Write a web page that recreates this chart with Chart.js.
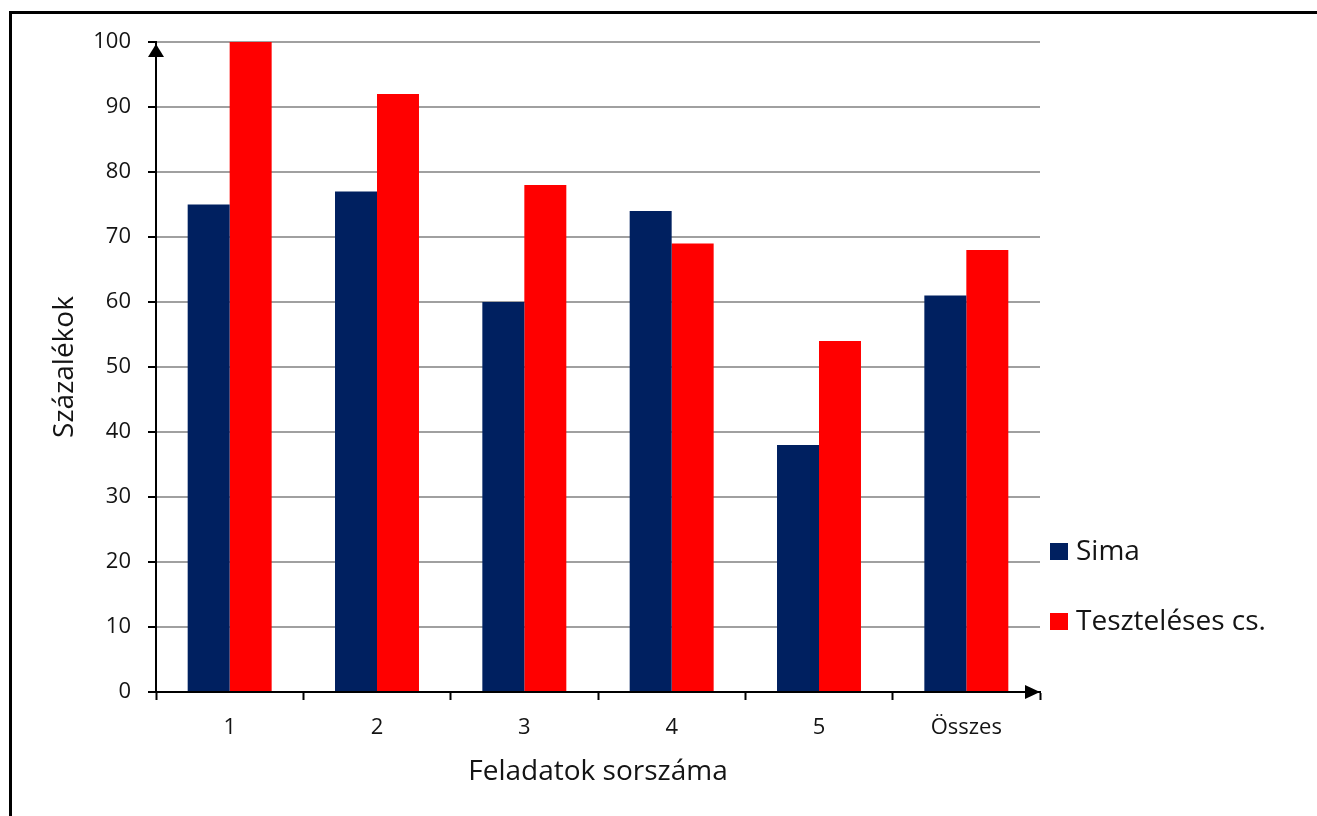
<!DOCTYPE html>
<html>
<head>
<meta charset="utf-8">
<script src="https://cdn.jsdelivr.net/npm/chart.js@4/dist/chart.umd.min.js"></script>
<style>
  html, body { margin: 0; padding: 0; background: #fff; }
  canvas { display: block; }
</style>
</head>
<body>
<canvas id="c" width="1317" height="816"></canvas>
<script>
// Feladatonkénti eredmények százalékban
const categories = ['1', '2', '3', '4', '5', 'Összes'];
const simaValues = [75, 77, 60, 74, 38, 61];
const teszteleesValues = [100, 92, 78, 69, 54, 68];
const seriesNames = ['Sima', 'Teszteléses cs.'];
const seriesColors = ['#002060', '#FF0000'];

const FONT = '"Open Sans", Lato, sans-serif';
const TEXT = '#141414';

// Keret, tengelynyilak és jelmagyarázat rajzolása
const decorations = {
  id: 'decorations',
  beforeDraw(chart) {
    const ctx = chart.ctx;
    ctx.save();
    ctx.fillStyle = '#fff';
    ctx.fillRect(0, 0, chart.width, chart.height);
    ctx.strokeStyle = '#000';
    ctx.lineWidth = 3;
    ctx.beginPath();
    ctx.moveTo(10.5, chart.height + 5);
    ctx.lineTo(10.5, 12.5);
    ctx.lineTo(chart.width + 5, 12.5);
    ctx.stroke();
    ctx.restore();
  },
  afterDraw(chart) {
    const ctx = chart.ctx;
    const a = chart.chartArea;
    ctx.save();
    ctx.fillStyle = '#000';
    // függőleges tengely nyila
    ctx.beginPath();
    ctx.moveTo(a.left, a.top + 2);
    ctx.lineTo(a.left - 8, a.top + 15);
    ctx.lineTo(a.left + 8, a.top + 15);
    ctx.closePath();
    ctx.fill();
    // vízszintes tengely nyila
    ctx.beginPath();
    ctx.moveTo(a.right, a.bottom);
    ctx.lineTo(a.right - 15, a.bottom - 7);
    ctx.lineTo(a.right - 15, a.bottom + 7);
    ctx.closePath();
    ctx.fill();

    // jelmagyarázat
    ctx.font = '28px ' + FONT;
    ctx.textBaseline = 'middle';
    ctx.textAlign = 'left';
    chart.data.datasets.forEach((ds, i) => {
      const cy = a.bottom - 140 + i * 70;
      const x = a.right + 10;
      ctx.fillStyle = ds.backgroundColor;
      ctx.fillRect(x, cy - 9, 18, 17);
      ctx.fillStyle = TEXT;
      ctx.fillText(ds.label, x + 26, cy);
    });
    ctx.restore();
  }
};

new Chart(document.getElementById('c'), {
  type: 'bar',
  data: {
    labels: categories,
    datasets: [
      { label: seriesNames[0], data: simaValues, backgroundColor: seriesColors[0] },
      { label: seriesNames[1], data: teszteleesValues, backgroundColor: seriesColors[1] }
    ]
  },
  options: {
    responsive: false,
    devicePixelRatio: 1,
    animation: false,
    layout: { padding: { left: 0, top: 42, right: 277, bottom: 0 } },
    datasets: { bar: { categoryPercentage: 0.57, barPercentage: 1, borderWidth: 0 } },
    plugins: {
      legend: { display: false },
      tooltip: { enabled: false }
    },
    scales: {
      x: {
        afterFit(s) { s.height = 124; },
        grid: {
          drawOnChartArea: false,
          offset: true,
          tickColor: '#000',
          tickLength: 8,
          tickWidth: 2
        },
        border: { color: '#000', width: 2 },
        ticks: { color: TEXT, font: { family: FONT, size: 22 }, padding: 15 },
        title: {
          display: true,
          text: 'Feladatok sorszáma',
          color: TEXT,
          font: { family: FONT, size: 28 },
          padding: { top: 0, bottom: 27 }
        }
      },
      y: {
        min: 0,
        max: 100,
        afterFit(s) { s.width = 156; },
        grid: {
          color: '#a0a0a0',
          lineWidth: 2,
          tickColor: '#000',
          tickLength: 8,
          tickWidth: 2
        },
        border: { color: '#000', width: 2 },
        ticks: { stepSize: 10, color: TEXT, font: { family: FONT, size: 22 }, padding: 17 },
        title: {
          display: true,
          text: 'Százalékok',
          color: TEXT,
          font: { family: FONT, size: 28 },
          padding: { top: 48, bottom: 0 }
        }
      }
    }
  },
  plugins: [decorations]
});
</script>
</body>
</html>
